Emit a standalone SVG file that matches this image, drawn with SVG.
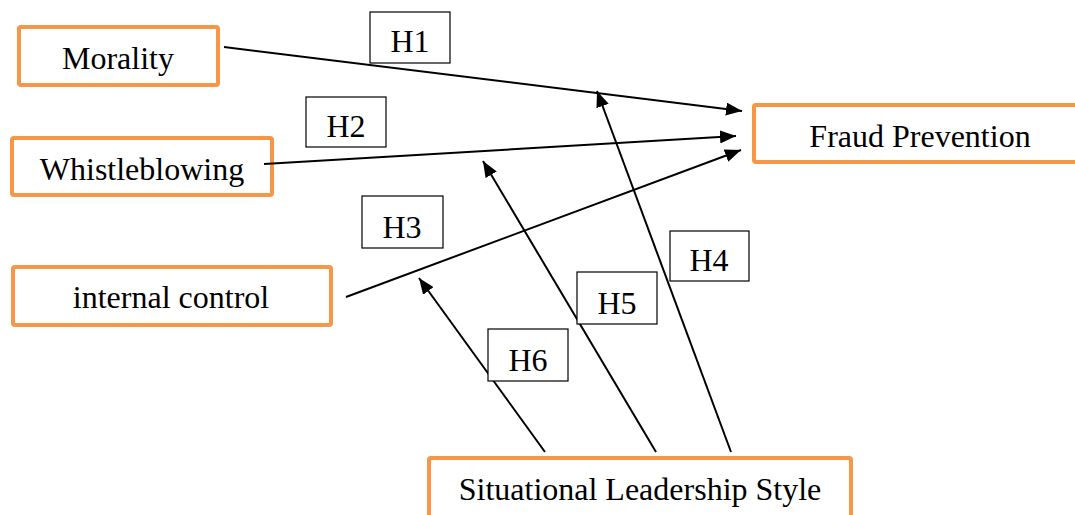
<svg xmlns="http://www.w3.org/2000/svg" width="1075" height="515" viewBox="0 0 1075 515">
<style>
.node rect{fill:#fff;stroke:#F79646;stroke-width:4}
.lab rect{fill:#fff;stroke:#000;stroke-width:1.2}
text{font-family:"Liberation Serif","Times New Roman",serif;font-size:32px;fill:#000;text-anchor:middle}
.conn line{stroke:#000;stroke-width:2;marker-end:url(#arr)}
</style>
<defs>
<marker id="arr" markerUnits="userSpaceOnUse" markerWidth="17" markerHeight="13" refX="16" refY="6.5" orient="auto">
<path d="M0,0 L16,6.5 L0,13 z" fill="#000"/>
</marker>
</defs>
<rect width="1075" height="515" fill="#fff"/>
<g id="morality" class="node"><rect x="19" y="27" width="199" height="58" rx="2"/><text x="118" y="69">Morality</text></g>
<g id="whistleblowing" class="node"><rect x="12" y="138" width="260" height="57" rx="2"/><text x="142" y="180">Whistleblowing</text></g>
<g id="internal-control" class="node"><rect x="13" y="267" width="318" height="58" rx="2"/><text x="171" y="308">internal control</text></g>
<g id="fraud-prevention" class="node"><rect x="754" y="105" width="340" height="57" rx="2"/><text x="920" y="147">Fraud Prevention</text></g>
<g id="situational" class="node"><rect x="429" y="458" width="422" height="70" rx="2"/><text x="640" y="500">Situational Leadership Style</text></g>
<g id="connectors" class="conn">
<line x1="224" y1="47" x2="742" y2="111"/>
<line x1="264" y1="164" x2="736" y2="136"/>
<line x1="346" y1="297" x2="741" y2="150"/>
<line x1="731" y1="452" x2="597" y2="91"/>
<line x1="656" y1="452" x2="483" y2="161"/>
<line x1="545" y1="452" x2="419" y2="278"/>
</g>
<g id="H1" class="lab"><rect x="370" y="12" width="80" height="51"/><text x="410" y="52">H1</text></g>
<g id="H2" class="lab"><rect x="306" y="97" width="80" height="50"/><text x="346" y="137">H2</text></g>
<g id="H3" class="lab"><rect x="362" y="196" width="81" height="52"/><text x="402" y="238">H3</text></g>
<g id="H4" class="lab"><rect x="670" y="231" width="79" height="50"/><text x="709" y="271">H4</text></g>
<g id="H5" class="lab"><rect x="577" y="272" width="80" height="52"/><text x="617" y="314">H5</text></g>
<g id="H6" class="lab"><rect x="488" y="329" width="80" height="52"/><text x="528" y="371">H6</text></g>
</svg>
